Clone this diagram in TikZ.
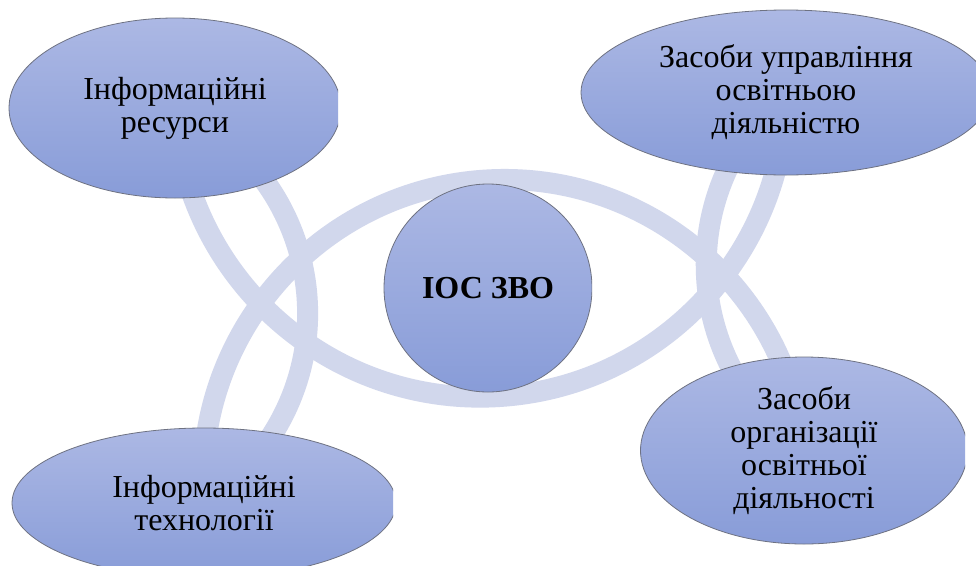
\documentclass[tikz,border=0pt]{standalone}
\usepackage{fontspec}
\setmainfont{Liberation Serif}
\usetikzlibrary{shapes.geometric,backgrounds}
\definecolor{ringc}{RGB}{209,215,236}
\definecolor{filltop}{RGB}{172,184,228}
\definecolor{fillbot}{RGB}{136,156,216}
\definecolor{edgec}{RGB}{110,114,130}
\begin{document}
\begin{tikzpicture}[x=1pt,y=-1pt,
  blob/.style={ellipse, draw=edgec, line width=0.8pt, top color=filltop, bottom color=fillbot,
    inner sep=0pt, align=center, font=\fontsize{32}{33}\selectfont},
  hub/.style={circle, draw=edgec, line width=0.8pt, top color=filltop, bottom color=fillbot,
    inner sep=0pt, align=center, font=\fontsize{32}{33}\selectfont\bfseries},
  ring/.style={draw=ringc, line width=21pt}]
\useasboundingbox (0,0) rectangle (976,565);

\begin{scope}
  \clip (0,0) rectangle (338,300);
  \node[blob, minimum width=332, minimum height=180] (tl) at (175,108) {Інформаційні\\ресурси};
\end{scope}
\node[blob, minimum width=410, minimum height=165] (tr) at (786,92.5) {Засоби управління\\освітньою\\діяльністю};
\begin{scope}
  \clip (0,300) rectangle (393,600);
  \node[blob, minimum width=384, minimum height=150] (bl) at (204,503) {Інформаційні\\технології};
\end{scope}
\begin{scope}
  \clip (600,300) rectangle (965,600);
  \node[blob, minimum width=327, minimum height=187] (br) at (804,450.5) {Засоби\\організації\\освітньої\\діяльності};
\end{scope}
\begin{scope}
  \clip (300,150) rectangle (592,420);
  \node[hub, minimum size=208] (hubc) at (488,288) {ІОС ЗВО};
\end{scope}

\begin{pgfonlayer}{background}
  \fill[white] (0,0) rectangle (976,565);
  \draw[ring] (tl.center) arc[start angle=176.89, end angle=0.2, radius=305.7];
  \draw[ring] (bl.center) arc[start angle=175.74, end angle=354.26, radius=301.16];
  \draw[ring] (tl.center) arc[start angle=-65.69, end angle=57.30, radius=225.35];
  \draw[ring] (tr.center) arc[start angle=229.73, end angle=124.52, radius=225.6];
\end{pgfonlayer}
\end{tikzpicture}
\end{document}
